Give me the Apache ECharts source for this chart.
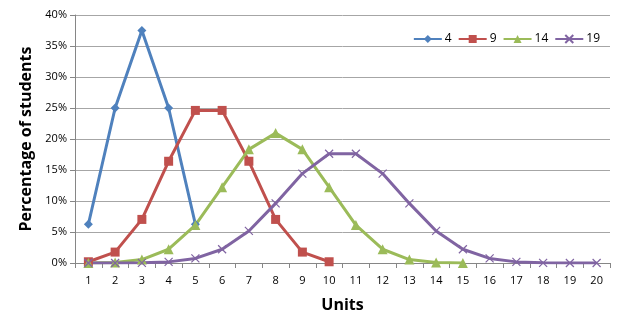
<!DOCTYPE html>
<html>
<head>
<meta charset="utf-8">
<script src="https://cdn.jsdelivr.net/npm/echarts@6/dist/echarts.min.js"></script>
<style>
  html, body { margin: 0; padding: 0; background: #fff; }
  #chart-container { width: 625px; height: 320px; }
</style>
</head>
<body>
<div id="chart-container"></div>
<script>
var units = ["1","2","3","4","5","6","7","8","9","10","11","12","13","14","15","16","17","18","19","20"];
var yTicks = [0, 5, 10, 15, 20, 25, 30, 35, 40];

// percentage of students per unit, one list per group
var s4 = [6.25, 25, 37.5, 25, 6.25];
var s9 = [0.2, 1.76, 7.03, 16.41, 24.61, 24.61, 16.41, 7.03, 1.76, 0.2];
var s14 = [0.01, 0.09, 0.56, 2.22, 6.11, 12.22, 18.33, 20.95, 18.33, 12.22, 6.11, 2.22, 0.56, 0.09, 0.01];
var s19 = [0, 0, 0.03, 0.18, 0.74, 2.22, 5.17, 9.61, 14.42, 17.62, 17.62, 14.42, 9.61, 5.17, 2.22, 0.74, 0.18, 0.03, 0, 0];

var dom = document.getElementById("chart-container");
var myChart = echarts.init(dom, null, { renderer: "canvas" });

var font = "'Open Sans', 'Liberation Sans', sans-serif";
var crossPath = "path://M0,0L10,10M10,0L0,10";

function line(name, data, color, symbol, size, extra) {
  var s = {
    name: name,
    type: "line",
    data: data,
    symbol: symbol,
    symbolSize: size,
    showAllSymbol: true,
    lineStyle: { color: color, width: 3 },
    itemStyle: { color: color },
    emphasis: { disabled: true },
  };
  if (extra) s.itemStyle = extra;
  return s;
}

var option = {
  animation: false,
  textStyle: { fontFamily: font },
  legend: {
    top: 28,
    right: 20,
    itemWidth: 28,
    itemHeight: 10,
    itemGap: 6,
    textStyle: { fontSize: 12, color: "#000", fontFamily: font, padding: [0, 0, 0, -2] },
    data: ["4", "9", "14", "19"],
  },
  grid: { left: 75, right: 15, top: 15, bottom: 57 },
  xAxis: {
    type: "category",
    data: units,
    boundaryGap: true,
    name: "Units",
    nameLocation: "middle",
    nameGap: 34,
    nameTextStyle: { fontSize: 16, fontWeight: "bold", color: "#000", fontFamily: font },
    axisLine: { lineStyle: { color: "#868686", width: 1 } },
    axisTick: { show: true, alignWithLabel: false, length: 5, lineStyle: { color: "#868686" } },
    axisLabel: { color: "#000", fontSize: 11, margin: 12, interval: 0 },
  },
  yAxis: {
    type: "value",
    min: yTicks[0],
    max: yTicks[yTicks.length - 1],
    interval: 5,
    name: "Percentage of students",
    nameLocation: "middle",
    nameGap: 37,
    nameTextStyle: { fontSize: 16, fontWeight: "bold", color: "#000", fontFamily: font },
    axisLine: { show: true, lineStyle: { color: "#868686" } },
    axisTick: { show: true, length: 5, lineStyle: { color: "#868686" } },
    axisLabel: { color: "#000", fontSize: 11, margin: 8, formatter: "{value}%" },
    splitLine: { lineStyle: { color: "#a6a6a6", width: 1 } },
  },
  series: [
    line("4", s4, "#4F81BD", "diamond", 9),
    line("9", s9, "#C0504D", "rect", 9),
    line("14", s14, "#9BBB59", "triangle", 10),
    line("19", s19, "#8064A2", crossPath, 8, { color: "#8064A2", borderColor: "#8064A2", borderWidth: 1.2 }),
  ],
};

myChart.setOption(option);
window.addEventListener("resize", myChart.resize);
</script>
</body>
</html>
